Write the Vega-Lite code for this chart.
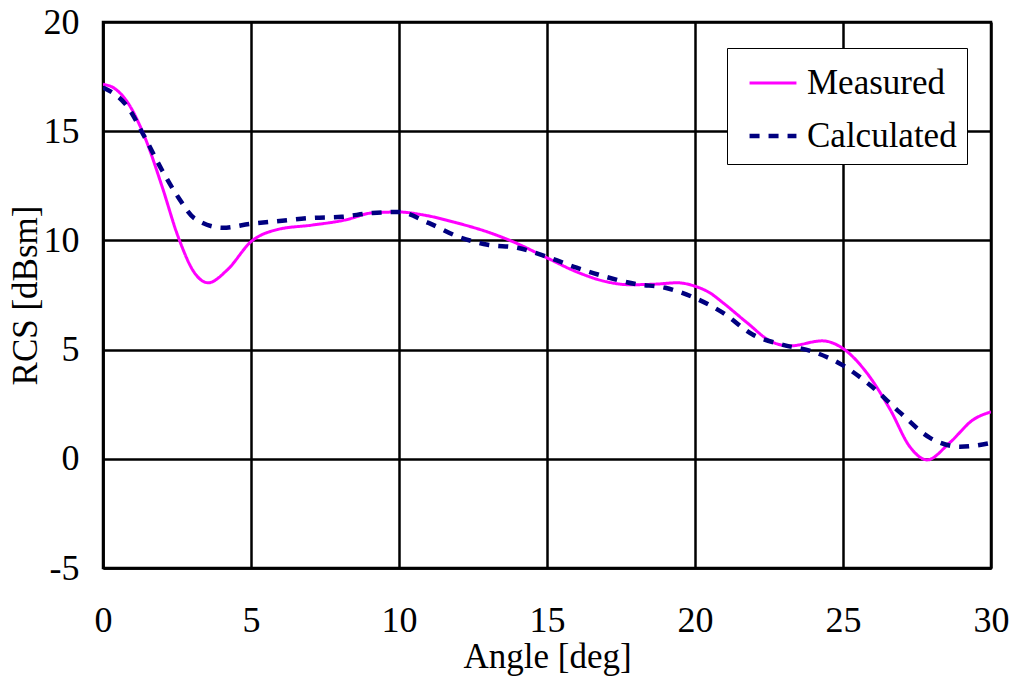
{
  "$schema": "https://vega.github.io/schema/vega-lite/v6.json",
  "width": 888,
  "height": 546,
  "autosize": {"type": "none"},
  "padding": {"left": 103, "top": 22, "right": 25, "bottom": 116},
  "background": "white",
  "config": {
    "font": "Liberation Serif",
    "view": {"stroke": "black", "strokeWidth": 2.5},
    "axis": {
      "grid": true, "gridColor": "black", "gridWidth": 2.5, "gridOpacity": 1,
      "domainColor": "black", "domainWidth": 2.5,
      "ticks": false, "labelFlush": false, "labelOverlap": false,
      "labelFont": "Liberation Serif", "labelFontSize": 36, "labelColor": "black",
      "titleFont": "Liberation Serif", "titleFontSize": 35, "titleFontWeight": "normal", "titleColor": "black"
    },
    "legend": {"labelFont": "Liberation Serif", "labelFontSize": 35, "labelColor": "black"}
  },
  "data": {"values": [
    {"series": "Measured", "angle": 0, "rcs": 17.15},
    {"series": "Measured", "angle": 0.4, "rcs": 16.95},
    {"series": "Measured", "angle": 0.84, "rcs": 16.3},
    {"series": "Measured", "angle": 1.42, "rcs": 14.7},
    {"series": "Measured", "angle": 2.0, "rcs": 12.45},
    {"series": "Measured", "angle": 2.53, "rcs": 10.2},
    {"series": "Measured", "angle": 3.1, "rcs": 8.5},
    {"series": "Measured", "angle": 3.55, "rcs": 8.06},
    {"series": "Measured", "angle": 4.2, "rcs": 8.65},
    {"series": "Measured", "angle": 5.0, "rcs": 9.94},
    {"series": "Measured", "angle": 5.9, "rcs": 10.5},
    {"series": "Measured", "angle": 7.06, "rcs": 10.7},
    {"series": "Measured", "angle": 8.2, "rcs": 10.94},
    {"series": "Measured", "angle": 9.1, "rcs": 11.26},
    {"series": "Measured", "angle": 10.0, "rcs": 11.3},
    {"series": "Measured", "angle": 10.8, "rcs": 11.17},
    {"series": "Measured", "angle": 11.96, "rcs": 10.8},
    {"series": "Measured", "angle": 13.07, "rcs": 10.35},
    {"series": "Measured", "angle": 13.85, "rcs": 9.94},
    {"series": "Measured", "angle": 15.0, "rcs": 9.2},
    {"series": "Measured", "angle": 16.0, "rcs": 8.56},
    {"series": "Measured", "angle": 17.03, "rcs": 8.1},
    {"series": "Measured", "angle": 17.8, "rcs": 7.97},
    {"series": "Measured", "angle": 18.7, "rcs": 8.0},
    {"series": "Measured", "angle": 19.4, "rcs": 8.06},
    {"series": "Measured", "angle": 20.0, "rcs": 7.9},
    {"series": "Measured", "angle": 20.5, "rcs": 7.6},
    {"series": "Measured", "angle": 20.95, "rcs": 7.14},
    {"series": "Measured", "angle": 21.76, "rcs": 6.23},
    {"series": "Measured", "angle": 22.6, "rcs": 5.35},
    {"series": "Measured", "angle": 23.2, "rcs": 5.17},
    {"series": "Measured", "angle": 24.3, "rcs": 5.4},
    {"series": "Measured", "angle": 25.0, "rcs": 5.05},
    {"series": "Measured", "angle": 25.8, "rcs": 3.94},
    {"series": "Measured", "angle": 26.6, "rcs": 2.24},
    {"series": "Measured", "angle": 27.26, "rcs": 0.55},
    {"series": "Measured", "angle": 27.84, "rcs": -0.05},
    {"series": "Measured", "angle": 28.6, "rcs": 0.73},
    {"series": "Measured", "angle": 29.4, "rcs": 1.79},
    {"series": "Measured", "angle": 30.0, "rcs": 2.15},
    {"series": "Calculated", "angle": 0, "rcs": 17.0},
    {"series": "Calculated", "angle": 0.84, "rcs": 16.1},
    {"series": "Calculated", "angle": 1.42, "rcs": 14.7},
    {"series": "Calculated", "angle": 2.0, "rcs": 13.2},
    {"series": "Calculated", "angle": 2.53, "rcs": 12.0},
    {"series": "Calculated", "angle": 3.1, "rcs": 11.0},
    {"series": "Calculated", "angle": 4.05, "rcs": 10.58},
    {"series": "Calculated", "angle": 5.0, "rcs": 10.76},
    {"series": "Calculated", "angle": 6.05, "rcs": 10.9},
    {"series": "Calculated", "angle": 7.06, "rcs": 11.03},
    {"series": "Calculated", "angle": 8.07, "rcs": 11.08},
    {"series": "Calculated", "angle": 9.1, "rcs": 11.26},
    {"series": "Calculated", "angle": 10.0, "rcs": 11.3},
    {"series": "Calculated", "angle": 11.0, "rcs": 10.8},
    {"series": "Calculated", "angle": 12.0, "rcs": 10.17},
    {"series": "Calculated", "angle": 13.0, "rcs": 9.8},
    {"series": "Calculated", "angle": 14.0, "rcs": 9.66},
    {"series": "Calculated", "angle": 15.0, "rcs": 9.25},
    {"series": "Calculated", "angle": 16.0, "rcs": 8.75},
    {"series": "Calculated", "angle": 17.0, "rcs": 8.33},
    {"series": "Calculated", "angle": 18.0, "rcs": 8.0},
    {"series": "Calculated", "angle": 19.0, "rcs": 7.83},
    {"series": "Calculated", "angle": 19.9, "rcs": 7.42},
    {"series": "Calculated", "angle": 20.95, "rcs": 6.68},
    {"series": "Calculated", "angle": 21.96, "rcs": 5.68},
    {"series": "Calculated", "angle": 22.97, "rcs": 5.22},
    {"series": "Calculated", "angle": 24.0, "rcs": 4.9},
    {"series": "Calculated", "angle": 24.97, "rcs": 4.3},
    {"series": "Calculated", "angle": 25.9, "rcs": 3.39},
    {"series": "Calculated", "angle": 26.9, "rcs": 2.15},
    {"series": "Calculated", "angle": 27.94, "rcs": 0.96},
    {"series": "Calculated", "angle": 28.95, "rcs": 0.55},
    {"series": "Calculated", "angle": 30.0, "rcs": 0.73}
  ]},
  "mark": {"type": "line", "interpolate": "monotone", "clip": true},
  "encoding": {
    "x": {
      "field": "angle", "type": "quantitative",
      "scale": {"domain": [0, 30], "nice": false, "zero": false},
      "axis": {"title": "Angle [deg]", "values": [0, 5, 10, 15, 20, 25, 30], "labelPadding": 35, "titlePadding": 1, "labelExpr": "'' + datum.value"}
    },
    "y": {
      "field": "rcs", "type": "quantitative",
      "scale": {"domain": [-5, 20], "nice": false, "zero": false},
      "axis": {"title": "RCS [dBsm]", "values": [-5, 0, 5, 10, 15, 20], "labelPadding": 24, "titlePadding": 0, "labelExpr": "'' + datum.value"}
    },
    "color": {
      "field": "series", "type": "nominal",
      "scale": {"domain": ["Measured", "Calculated"], "range": ["#FF00FF", "#000080"]},
      "legend": {
        "title": null, "orient": "none", "legendX": 624, "legendY": 26,
        "symbolType": "stroke", "symbolSize": 2200, "symbolStrokeWidth": 4,
        "symbolOffset": 10,
        "strokeColor": "black", "fillColor": "white", "padding": 10,
        "labelOffset": 8, "rowPadding": 9, "cornerRadius": 0
      }
    },
    "strokeDash": {
      "field": "series", "type": "nominal",
      "scale": {"domain": ["Measured", "Calculated"], "range": [[1, 0], [10, 9]]},
      "legend": null
    },
    "strokeWidth": {
      "field": "series", "type": "nominal",
      "scale": {"domain": ["Measured", "Calculated"], "range": [3, 4.5]},
      "legend": null
    }
  }
}
